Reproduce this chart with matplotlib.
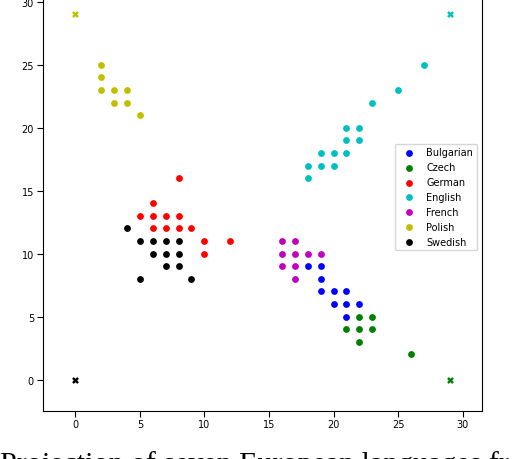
import matplotlib
matplotlib.use("Agg")
import matplotlib.pyplot as plt

# map positions of each language's samples (grid 0..29)
languages = ["Bulgarian", "Czech", "German", "English", "French", "Polish", "Swedish"]
colors = ["b", "g", "r", "c", "m", "y", "k"]

bulgarian_x = [18, 19, 19, 19, 20, 21, 20, 21, 22, 21]
bulgarian_y = [9, 9, 8, 7, 7, 7, 6, 6, 6, 5]

czech_x = [22, 23, 21, 22, 23, 22, 26]
czech_y = [5, 5, 4, 4, 4, 3, 2]

german_x = [8, 6, 5, 6, 7, 8, 6, 7, 8, 9, 10, 12, 10]
german_y = [16, 14, 13, 13, 13, 13, 12, 12, 12, 12, 11, 11, 10]

english_x = [27, 25, 23, 21, 22, 21, 22, 19, 20, 21, 18, 19, 20, 18]
english_y = [25, 23, 22, 20, 20, 19, 19, 18, 18, 18, 17, 17, 17, 16]

french_x = [16, 17, 16, 17, 18, 19, 16, 17, 17]
french_y = [11, 11, 10, 10, 10, 10, 9, 9, 8]

polish_x = [2, 2, 2, 3, 4, 3, 4, 5]
polish_y = [25, 24, 23, 23, 23, 22, 22, 21]

swedish_x = [4, 5, 6, 7, 8, 6, 7, 8, 7, 8, 5, 9]
swedish_y = [12, 11, 11, 11, 11, 10, 10, 10, 9, 9, 8, 8]

# corner reference points, drawn as crosses
corner_x = [29, 29, 0, 0]
corner_y = [0, 29, 29, 0]
corner_lang = ["Czech", "English", "Polish", "Swedish"]

# caption under the plot, cut off by the image edge in the original
caption = "Projection of seven European languages from a self-organizing map"

points = {
    "Bulgarian": (bulgarian_x, bulgarian_y),
    "Czech": (czech_x, czech_y),
    "German": (german_x, german_y),
    "English": (english_x, english_y),
    "French": (french_x, french_y),
    "Polish": (polish_x, polish_y),
    "Swedish": (swedish_x, swedish_y),
}

fig = plt.figure(figsize=(5.12, 4.6), dpi=100)
ax = fig.add_axes([43 / 512, 48 / 460, 439 / 512, 428 / 460])

for lang, col in zip(languages, colors):
    xs, ys = points[lang]
    ax.scatter(xs, ys, c=col, s=24, linewidths=0, label=lang)

for cx, cy, lang in zip(corner_x, corner_y, corner_lang):
    col = colors[languages.index(lang)]
    ax.scatter([cx], [cy], c=col, marker="X", s=24, linewidths=0)

ax.set_xlim(-2.5, 31.5)
ax.set_ylim(-2.5, 31.5)
ax.set_xticks([0, 5, 10, 15, 20, 25, 30])
ax.set_yticks([0, 5, 10, 15, 20, 25, 30])
ax.tick_params(axis="both", labelsize=7, length=4)
ax.tick_params(axis="x", pad=1.5)
ax.tick_params(axis="y", pad=2.5)

ax.legend(loc="center right", fontsize=7, scatterpoints=1)

fig.text(0.0, -12.5 / 460, caption, family="Liberation Serif", fontsize=21.6,
         va="baseline", ha="left")

fig.savefig("out.png", dpi=100)
